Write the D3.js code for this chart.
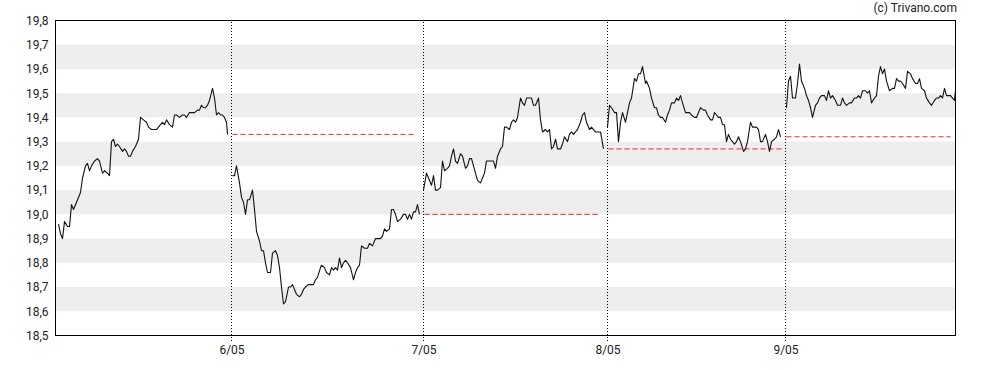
<!DOCTYPE html>
<html>
<head>
<meta charset="utf-8">
<script src="https://cdn.jsdelivr.net/npm/d3@7"></script>
<style>
  html, body { margin: 0; padding: 0; background: #fff; }
  svg { display: block; font-family: Roboto, "Liberation Sans", Arial, sans-serif; }
</style>
</head>
<body>
<svg id="chart" width="988" height="370"></svg>
<script>
// ---- DATA ----
// time index (session units), price
const day1 = [[3,18.96],[5,18.92],[7,18.90],[9,18.97],[12,18.95],[14,18.95],[16,19.04],[18,19.02],[21,19.05],[25,19.09],[27,19.15],[30,19.20],[32,19.21],[34,19.18],[36,19.20],[39,19.22],[42,19.23],[44,19.22],[47,19.17],[49,19.18],[52,19.17],[54,19.16],[56,19.30],[58,19.31],[60,19.28],[62,19.29],[64,19.28],[67,19.26],[69,19.27],[71,19.26],[73,19.24],[75,19.24],[77,19.26],[80,19.28],[83,19.31],[85,19.40],[88,19.39],[91,19.38],[93,19.36],[96,19.35],[98,19.35],[101,19.35],[103,19.36],[105,19.37],[107,19.38],[109,19.37],[111,19.39],[114,19.37],[117,19.36],[119,19.41],[121,19.41],[124,19.40],[127,19.41],[129,19.41],[131,19.40],[134,19.42],[137,19.42],[139,19.42],[142,19.43],[144,19.43],[146,19.45],[148,19.44],[150,19.44],[152,19.45],[154,19.47],[157,19.52],[159,19.48],[161,19.41],[163,19.42],[165,19.41],[167,19.41],[169,19.40],[171,19.38],[172,19.33]];
const day2 = [[177,19.16],[179,19.16],[181,19.20],[184,19.13],[186,19.07],[188,19.05],[190,19.00],[192,19.06],[194,19.06],[197,19.10],[199,19.02],[201,18.93],[204,18.89],[206,18.85],[208,18.85],[210,18.80],[212,18.76],[215,18.76],[217,18.84],[220,18.85],[222,18.83],[224,18.78],[226,18.70],[228,18.63],[230,18.64],[233,18.70],[235,18.70],[237,18.71],[239,18.69],[241,18.67],[244,18.66],[246,18.67],[248,18.69],[250,18.70],[253,18.71],[256,18.71],[258,18.71],[260,18.73],[262,18.74],[265,18.78],[266,18.79],[269,18.78],[271,18.76],[274,18.75],[276,18.78],[278,18.77],[280,18.78],[282,18.77],[284,18.82],[286,18.78],[288,18.80],[290,18.81],[292,18.80],[295,18.78],[298,18.73],[300,18.76],[302,18.78],[304,18.79],[306,18.87],[309,18.86],[312,18.86],[314,18.88],[317,18.87],[320,18.90],[322,18.90],[325,18.90],[327,18.91],[329,18.94],[331,18.93],[334,18.94],[336,19.02],[338,19.02],[340,19.00],[342,18.97],[345,18.98],[348,19.00],[350,19.00],[352,18.98],[354,19.00],[356,18.98],[358,19.01],[360,19.01],[362,19.04],[364,19.00]];
const day3 = [[368,19.10],[371,19.17],[373,19.15],[376,19.12],[378,19.16],[380,19.10],[382,19.10],[385,19.11],[387,19.22],[389,19.18],[392,19.19],[394,19.20],[396,19.24],[398,19.27],[400,19.22],[402,19.21],[405,19.25],[407,19.24],[410,19.19],[412,19.20],[414,19.23],[416,19.23],[418,19.20],[420,19.17],[422,19.14],[425,19.13],[427,19.15],[429,19.17],[431,19.22],[434,19.22],[436,19.22],[438,19.22],[440,19.19],[442,19.24],[445,19.27],[447,19.28],[449,19.36],[451,19.36],[454,19.35],[456,19.38],[458,19.39],[460,19.38],[462,19.40],[465,19.48],[467,19.46],[469,19.45],[471,19.48],[474,19.48],[476,19.48],[478,19.45],[480,19.45],[483,19.48],[485,19.39],[487,19.34],[490,19.35],[492,19.34],[494,19.35],[496,19.27],[498,19.28],[500,19.31],[502,19.27],[505,19.27],[507,19.29],[509,19.32],[512,19.30],[514,19.33],[516,19.34],[518,19.33],[520,19.34],[522,19.35],[525,19.38],[527,19.41],[529,19.42],[531,19.38],[534,19.35],[536,19.36],[538,19.35],[540,19.34],[542,19.34],[545,19.34],[548,19.27]];
const day4 = [[552,19.36],[554,19.45],[556,19.44],[559,19.42],[561,19.42],[563,19.30],[565,19.38],[567,19.42],[570,19.38],[572,19.42],[574,19.46],[576,19.48],[579,19.56],[581,19.55],[583,19.58],[585,19.58],[587,19.61],[590,19.54],[591,19.55],[594,19.52],[596,19.48],[599,19.44],[601,19.44],[603,19.41],[605,19.40],[607,19.40],[610,19.38],[612,19.41],[614,19.43],[616,19.46],[619,19.46],[621,19.48],[623,19.47],[625,19.49],[627,19.46],[630,19.42],[632,19.42],[634,19.42],[636,19.41],[639,19.40],[641,19.40],[643,19.42],[645,19.44],[648,19.43],[650,19.43],[652,19.41],[655,19.39],[657,19.39],[659,19.42],[661,19.41],[663,19.40],[665,19.40],[667,19.37],[669,19.37],[671,19.30],[673,19.33],[675,19.31],[677,19.30],[679,19.29],[681,19.30],[683,19.32],[685,19.30],[688,19.26],[690,19.27],[692,19.30],[695,19.38],[697,19.36],[699,19.36],[701,19.36],[703,19.35],[705,19.30],[707,19.30],[710,19.33],[712,19.30],[714,19.26],[716,19.30],[719,19.31],[721,19.32],[723,19.35],[725,19.32]];
const day5 = [[731,19.44],[733,19.55],[735,19.57],[737,19.48],[740,19.48],[742,19.54],[744,19.62],[746,19.55],[749,19.52],[751,19.49],[753,19.47],[755,19.44],[757,19.40],[760,19.45],[762,19.46],[764,19.48],[766,19.49],[769,19.49],[771,19.47],[773,19.51],[775,19.48],[777,19.49],[780,19.47],[782,19.45],[785,19.45],[787,19.48],[789,19.46],[791,19.45],[794,19.46],[796,19.46],[799,19.48],[801,19.48],[803,19.49],[805,19.48],[807,19.51],[810,19.51],[812,19.50],[814,19.51],[816,19.46],[819,19.48],[821,19.49],[823,19.57],[825,19.61],[827,19.58],[829,19.60],[831,19.55],[834,19.51],[837,19.52],[839,19.52],[841,19.56],[843,19.55],[845,19.55],[847,19.54],[850,19.52],[852,19.59],[855,19.58],[857,19.56],[860,19.54],[862,19.54],[864,19.56],[866,19.52],[869,19.51],[871,19.48],[874,19.46],[876,19.45],[879,19.47],[881,19.48],[883,19.48],[885,19.49],[887,19.48],[889,19.52],[891,19.49],[893,19.49],[895,19.49],[897,19.48],[899,19.47],[900,19.51]];
const days = [day1, day2, day3, day4, day5];

// previous close reference per day (start, end, value)
const refStart = [176, 368, 552, 730];
const refEnd   = [361, 543, 726, 895];
const refValue = [19.33, 19.00, 19.27, 19.32];

// day separators and labels
const dayBreaks = [176, 368, 552, 730];
const dayLabels = ["6/05", "7/05", "8/05", "9/05"];

const yTicks = [18.5, 18.6, 18.7, 18.8, 18.9, 19.0, 19.1, 19.2, 19.3, 19.4, 19.5, 19.6, 19.7, 19.8];
const bandStarts = [18.6, 18.8, 19.0, 19.2, 19.4, 19.6];
const credit = "(c) Trivano.com";

// ---- CHART ----
const svg = d3.select("#chart");
const L = 55.5, R = 955.5, T = 20.5, B = 335.5;
const x = d3.scaleLinear().domain([0, 900]).range([L, R]);
const y = d3.scaleLinear().domain([18.5, 19.8]).range([B, T]);
const loc = d3.formatLocale({decimal: ",", thousands: ".", grouping: [3], currency: ["", "€"]});
const fmt = loc.format(".1f");
const px = v => Math.floor(x(v)) + 0.5;

// bands
svg.append("g").selectAll("rect").data(bandStarts).join("rect")
  .attr("x", L).attr("width", R - L)
  .attr("y", d => y(d + 0.1)).attr("height", d => y(d) - y(d + 0.1))
  .attr("fill", "#eeeeee");

// day separators
svg.append("g").selectAll("line").data(dayBreaks).join("line")
  .attr("x1", px).attr("x2", px)
  .attr("y1", T + 1).attr("y2", B + 5)
  .attr("stroke", "#000").attr("stroke-width", 1).attr("stroke-dasharray", "1,2")
  .attr("shape-rendering", "crispEdges");

// reference lines
svg.append("g").selectAll("line").data(refValue).join("line")
  .attr("x1", (d, i) => x(refStart[i]) + 1).attr("x2", (d, i) => x(refEnd[i]))
  .attr("y1", d => y(d)).attr("y2", d => y(d))
  .attr("stroke", "#ff2020").attr("stroke-width", 1).attr("stroke-dasharray", "5,3");

// price lines
const line = d3.line().x(d => x(d[0])).y(d => y(d[1]));
svg.append("g").selectAll("path").data(days).join("path")
  .attr("d", line).attr("fill", "none")
  .attr("stroke", "#111").attr("stroke-width", 1.1).attr("stroke-linejoin", "round");

// frame
svg.append("rect").attr("x", L).attr("y", T).attr("width", R - L).attr("height", B - T)
  .attr("fill", "none").attr("stroke", "#000").attr("stroke-width", 1);

// y axis
const yAxis = d3.axisLeft(y).tickValues(yTicks).tickFormat(fmt).tickSize(0).tickPadding(7);
const gy = svg.append("g").attr("transform", `translate(${L},0)`).call(yAxis);
gy.select(".domain").remove();
gy.selectAll("text").attr("font-size", 12).attr("fill", "#222").attr("font-family", "Roboto, sans-serif");

// x labels
const xAxis = d3.axisBottom(x).tickValues(dayBreaks).tickFormat((d, i) => dayLabels[i]).tickSize(0).tickPadding(10);
const gx = svg.append("g").attr("transform", `translate(0,${B})`).call(xAxis);
gx.select(".domain").remove();
gx.selectAll("text").attr("font-size", 12).attr("fill", "#222").attr("font-family", "Roboto, sans-serif");

// credit
svg.append("text").attr("x", 957).attr("y", 12).attr("text-anchor", "end")
  .attr("font-size", 12).attr("fill", "#222").text(credit);
</script>
</body>
</html>
